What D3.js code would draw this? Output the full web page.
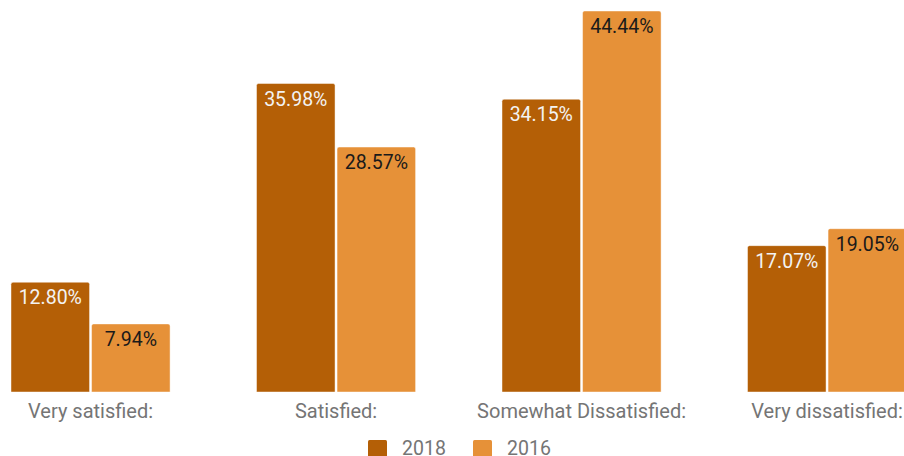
<!DOCTYPE html>
<html><head><meta charset="utf-8">
<script src="https://cdn.jsdelivr.net/npm/d3@7"></script>
<style>html,body{margin:0;padding:0;background:#fff;overflow:hidden}svg{display:block}</style>
</head><body>
<svg id="chart" width="904" height="456"></svg>
<script>
const categories = ["Very satisfied:", "Satisfied:", "Somewhat Dissatisfied:", "Very dissatisfied:"];
const seriesNames = ["2018", "2016"];
const values2018 = [12.80, 35.98, 34.15, 17.07];
const values2016 = [7.94, 28.57, 44.44, 19.05];
const colors = ["#b45f06", "#e69138"];
const labelColors = ["#f3f3f3", "#1a1a1a"];

const svg = d3.select("#chart");
const font = "Roboto, 'Noto Sans', sans-serif";
const baseY = 392;

const x0 = d3.scaleBand().domain(categories).range([11, 906.6]).paddingInner(0.352).paddingOuter(0);
const x1 = d3.scaleBand().domain(seriesNames).range([0, x0.bandwidth()]).paddingInner(0.025);
const y = d3.scaleLinear().domain([0, 44.44]).range([baseY, 11]);

const data = categories.map((c, i) => ({cat: c, vals: [
  {s: "2018", v: values2018[i], k: 0},
  {s: "2016", v: values2016[i], k: 1}
]}));

const g = svg.selectAll("g.grp").data(data).join("g")
  .attr("transform", d => `translate(${x0(d.cat)},0)`);

function barPath(x, yTop, w, h, r) {
  return `M${x},${yTop + h}V${yTop + r}Q${x},${yTop} ${x + r},${yTop}H${x + w - r}Q${x + w},${yTop} ${x + w},${yTop + r}V${yTop + h}Z`;
}

g.selectAll("path.bar").data(d => d.vals).join("path")
  .attr("d", d => barPath(x1(d.s), y(d.v), x1.bandwidth(), baseY - y(d.v), 2))
  .attr("fill", d => colors[d.k])
  .attr("stroke", "rgba(255,255,255,0.45)")
  .attr("stroke-width", 1);

g.selectAll("text.val").data(d => d.vals).join("text")
  .attr("x", d => x1(d.s) + x1.bandwidth() / 2)
  .attr("y", d => y(d.v) + 22)
  .attr("text-anchor", "middle")
  .attr("font-family", font)
  .attr("font-size", 19.5)
  .attr("fill", d => labelColors[d.k])
  .text(d => d.v.toFixed(2) + "%");

const xAxis = d3.axisBottom(x0).tickSize(0).tickPadding(0);
const ax = svg.append("g").attr("transform", `translate(0,${baseY})`).call(xAxis);
ax.select(".domain").remove();
ax.selectAll("text")
  .attr("y", 26)
  .attr("dy", 0)
  .attr("font-family", font)
  .attr("font-size", 20)
  .attr("fill", "#757575");

// legend
const legendItems = [{name: "2018", x: 368}, {name: "2016", x: 473}];
const lg = svg.selectAll("g.leg").data(seriesNames).join("g")
  .attr("transform", (d, i) => `translate(${legendItems[i].x},440)`);
lg.append("rect").attr("width", 19).attr("height", 19).attr("rx", 1.5)
  .attr("fill", (d, i) => colors[i]);
lg.append("text").attr("x", 34).attr("y", 15)
  .attr("font-family", font).attr("font-size", 19.5).attr("fill", "#757575")
  .text(d => d);
</script>
</body></html>
